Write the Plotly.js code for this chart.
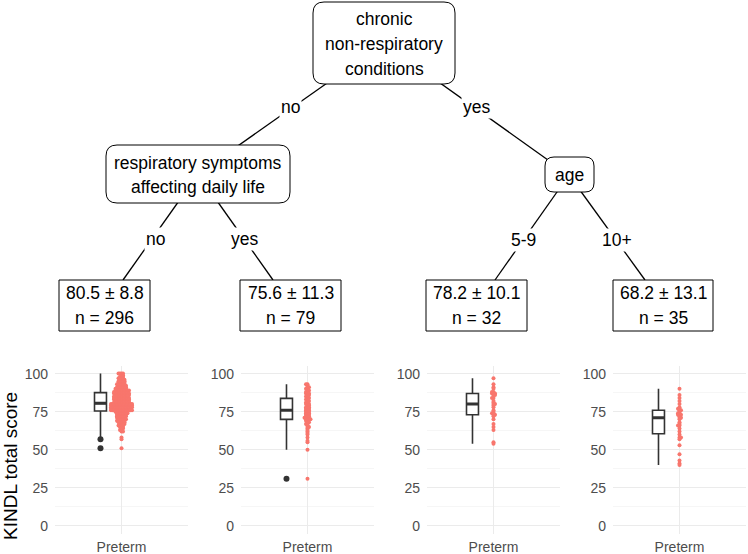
<!DOCTYPE html>
<html><head><meta charset="utf-8">
<script src="https://cdn.plot.ly/plotly-3.0.1.min.js"></script>
<style>html,body{margin:0;padding:0;background:#fff}#chart{width:748px;height:554px}</style>
</head><body><div id="chart"></div>
<script>
// ---------------- data ----------------
const rootLabel = ["chronic", "non-respiratory", "conditions"];
const leftLabel = ["respiratory symptoms", "affecting daily life"];
const rightLabel = ["age"];
const edgeLabels = ["no", "yes", "no", "yes", "5-9", "10+"];
const leafMeans = [80.5, 75.6, 78.2, 68.2];
const leafSDs = [8.8, 11.3, 10.1, 13.1];
const leafNs = [296, 79, 32, 35];
const groupLabel = "Preterm";
const yTickVals = [0, 25, 50, 75, 100];
const yTitle = "KINDL total score";

const levels1 = [100,99,98,97,96,95,94,93,92,91,90,89,88,87,86,85,84,83,82,81,80,79,78,77,76,75,74,73,72,71,70,69,68,67,66,65,64,63,62,58,57,51];
const counts1 = [4,2,3,4,4,5,5,6,6,7,8,10,10,11,10,10,11,11,10,11,15,15,15,14,15,9,8,7,7,6,6,6,5,4,4,3,2,2,2,1,1,1];
const levels2 = [93,92,91,90,89,88,87,86,85,84,83,82,81,80,79,78,77,76,75,74,73,72,71,70,69,68,67,66,65,64,63,62,61,60,58,56,55,50,31];
const counts2 = [2,1,2,2,2,2,3,2,2,2,2,2,2,3,2,3,3,3,3,3,3,3,4,4,2,2,2,1,2,1,1,1,1,1,1,1,1,1,1];
const levels3 = [97,93,91,90,88,87,86,84,82,81,80,79,78,76,75,74,73,72,70,67,65,63,55,54];
const counts3 = [1,1,1,1,2,3,2,2,1,1,2,1,1,1,1,2,2,1,1,1,1,1,1,1];
const levels4 = [90,86,84,82,80,78,77,76,75,74,73,72,71,70,68,67,66,64,62,60,58,57,53,47,43,41,40];
const counts4 = [1,1,1,1,1,1,2,2,1,2,3,1,2,1,1,1,2,1,1,1,2,1,1,1,1,1,1];

// ---------------- layout geometry (pixels) ----------------
const W = 748, H = 554;
const FONT = "Liberation Sans, Arial, Helvetica, sans-serif";
const px = x => x / W, py = y => 1 - y / H;
const panelX = [[55, 188], [241, 374], [427, 560], [613, 746]];
const panelY = [366, 533.6];
const yRange = [-5, 105];
const xRange = [-1, 1];
const boxPos = -0.316, boxW = 0.18;
const swarmD = 1.5; // px collision distance

function expand(lv, ct) { const o = []; lv.forEach((v, i) => { for (let k = 0; k < ct[i]; k++) o.push(v); }); return o; }
function median(a) { const s = a.slice().sort((x, y) => x - y); const n = s.length; return n % 2 ? s[(n - 1) / 2] : (s[n / 2 - 1] + s[n / 2]) / 2; }
function swarm(vals, pxPerY, d) {
  const idx = vals.map((v, i) => i).sort((a, b) => vals[a] - vals[b]);
  const placed = []; const xs = new Array(vals.length); let flip = 1;
  for (const i of idx) {
    const y = vals[i] * pxPerY;
    const near = placed.filter(p => Math.abs(p.y - y) < d);
    const c = [0];
    for (const p of near) { const dx = Math.sqrt(d * d - (p.y - y) ** 2); c.push(p.x + dx, p.x - dx); }
    c.sort((a, b) => (Math.abs(a) - Math.abs(b)) || flip * (b - a));
    let ch = 0;
    for (const cx of c) { if (near.every(p => (p.x - cx) ** 2 + (p.y - y) ** 2 >= d * d - 1e-6)) { ch = cx; break; } }
    if (ch !== 0) flip = -flip;
    placed.push({ x: ch, y }); xs[i] = ch;
  }
  return xs;
}

const groups = [expand(levels1, counts1), expand(levels2, counts2), expand(levels3, counts3), expand(levels4, counts4)];
const pxPerY = (panelY[1] - panelY[0]) / (yRange[1] - yRange[0]);

const traces = [];
const layout = {
  width: W, height: H, margin: { l: 0, r: 0, t: 0, b: 0 },
  paper_bgcolor: "#fff", plot_bgcolor: "#fff", showlegend: false,
  font: { family: FONT, color: "#000" }, shapes: [], annotations: []
};
groups.forEach((vals, g) => {
  const k = g === 0 ? "" : String(g + 1);
  const xa = "x" + k, ya = "y" + k;
  const pxPerX = (panelX[g][1] - panelX[g][0]) / (xRange[1] - xRange[0]);
  const offs = swarm(vals, pxPerY, swarmD).map(v => v / pxPerX);
  traces.push({ type: "box", y: vals, x0: boxPos, width: boxW, xaxis: xa, yaxis: ya,
    boxpoints: "outliers", jitter: 0, pointpos: 0, whiskerwidth: 0,
    line: { color: "#333333", width: 1.6 }, fillcolor: "#ffffff",
    marker: { color: "#333333", size: 6, line: { width: 0 } }, hoverinfo: "skip" });
  const m = median(vals);
  traces.push({ type: "scatter", mode: "lines", x: [boxPos - boxW / 2, boxPos + boxW / 2], y: [m, m],
    xaxis: xa, yaxis: ya, line: { color: "#333333", width: 3 }, hoverinfo: "skip" });
  traces.push({ type: "scatter", mode: "markers", x: offs, y: vals, xaxis: xa, yaxis: ya,
    marker: { color: "#F8766D", size: 4, line: { width: 0 } }, hoverinfo: "skip" });
  layout["xaxis" + k] = { domain: [px(panelX[g][0]), px(panelX[g][1])], range: xRange, anchor: ya,
    tickmode: "array", tickvals: [0], ticktext: [groupLabel], showgrid: true, gridcolor: "#EBEBEB", gridwidth: 1,
    zeroline: false, showline: false, ticks: "", ticklabelstandoff: 3,
    tickfont: { size: 14, color: "#4D4D4D", family: FONT }, fixedrange: true };
  layout["yaxis" + k] = { domain: [py(panelY[1]), py(panelY[0])], range: yRange, anchor: xa,
    tickmode: "array", tickvals: yTickVals, showgrid: true, gridcolor: "#EBEBEB", gridwidth: 1,
    minor: { dtick: 12.5, tick0: 0, showgrid: true, gridcolor: "#F0F0F0", gridwidth: 0.6 },
    zeroline: false, showline: false, ticks: "", ticklabelstandoff: 6,
    tickfont: { size: 14, color: "#4D4D4D", family: FONT }, fixedrange: true };
});

// ---------------- tree ----------------
const nodes = { root: [384, 43], left: [198, 174], age: [569, 175], l1: [123, 280], l2: [273, 280], l3: [495, 280], l4: [645, 280] };
const edges = [["root", "left"], ["root", "age"], ["left", "l1"], ["left", "l2"], ["age", "l3"], ["age", "l4"]];
const edgeLabelPos = [[290, 107], [476, 107], [155, 239], [245, 239], [523, 240], [617, 240]];
edges.forEach(([a, b], i) => {
  layout.shapes.push({ type: "line", xref: "paper", yref: "paper", x0: px(nodes[a][0]), y0: py(nodes[a][1]),
    x1: px(nodes[b][0]), y1: py(nodes[b][1]), line: { color: "#000", width: 1.3 } });
  layout.annotations.push({ xref: "paper", yref: "paper", x: px(edgeLabelPos[i][0]), y: py(edgeLabelPos[i][1]),
    text: edgeLabels[i], showarrow: false, bgcolor: "#fff", borderpad: 1, xanchor: "center", yanchor: "middle",
    font: { size: 17.5, color: "#000", family: FONT } });
});
function roundRect(x0, y0, x1, y1, r) {
  const P = (x, y) => px(x) + "," + py(y);
  return "M " + P(x0 + r, y0) + " L " + P(x1 - r, y0) + " Q " + P(x1, y0) + " " + P(x1, y0 + r) +
    " L " + P(x1, y1 - r) + " Q " + P(x1, y1) + " " + P(x1 - r, y1) + " L " + P(x0 + r, y1) +
    " Q " + P(x0, y1) + " " + P(x0, y1 - r) + " L " + P(x0, y0 + r) + " Q " + P(x0, y0) + " " + P(x0 + r, y0) + " Z";
}
const inner = [
  { box: [313, 2, 455, 84], r: 11, lines: rootLabel, cx: 384, ys: [19, 44, 69] },
  { box: [106, 145, 290, 203], r: 11, lines: leftLabel, cx: 198, ys: [163, 187] },
  { box: [545, 157, 594, 192], r: 9, lines: rightLabel, cx: 569.5, ys: [175] }
];
inner.forEach(n => {
  layout.shapes.push({ type: "path", xref: "paper", yref: "paper", path: roundRect(...n.box, n.r),
    fillcolor: "#fff", line: { color: "#000", width: 1 } });
  n.lines.forEach((t, j) => layout.annotations.push({ xref: "paper", yref: "paper", x: px(n.cx), y: py(n.ys[j]),
    text: t, showarrow: false, xanchor: "center", yanchor: "middle", font: { size: 17.5, color: "#000", family: FONT } }));
});
const leafBoxX = [[59, 150], [240, 341], [426, 527], [613, 713]];
leafMeans.forEach((mu, i) => {
  const [a, b] = leafBoxX[i]; const cx = (a + b) / 2;
  layout.shapes.push({ type: "rect", xref: "paper", yref: "paper", x0: px(a), x1: px(b), y0: py(280), y1: py(331),
    fillcolor: "#fff", line: { color: "#000", width: 1 } });
  layout.annotations.push({ xref: "paper", yref: "paper", x: px(cx), y: py(293), showarrow: false,
    text: mu.toFixed(1) + " ± " + leafSDs[i].toFixed(1), xanchor: "center", yanchor: "middle",
    font: { size: 17.5, color: "#000", family: FONT } });
  layout.annotations.push({ xref: "paper", yref: "paper", x: px(cx), y: py(318), showarrow: false,
    text: "n = " + leafNs[i], xanchor: "center", yanchor: "middle", font: { size: 17.5, color: "#000", family: FONT } });
});
layout.annotations.push({ xref: "paper", yref: "paper", x: px(10), y: py(466), text: yTitle, textangle: -90,
  showarrow: false, xanchor: "center", yanchor: "middle", font: { size: 19, color: "#000", family: FONT } });

Plotly.newPlot("chart", traces, layout, { staticPlot: true, displayModeBar: false });
</script></body></html>
